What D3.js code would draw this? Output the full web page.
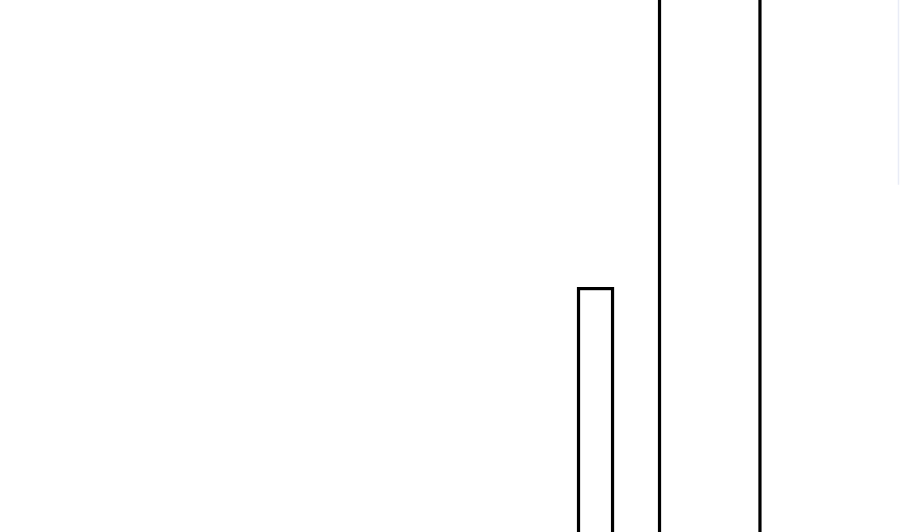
<!DOCTYPE html>
<html>
<head>
<meta charset="utf-8">
<script src="https://cdn.jsdelivr.net/npm/d3@7"></script>
<style>
  html, body { margin: 0; padding: 0; background: #fff; overflow: hidden; }
  svg { display: block; }
</style>
</head>
<body>
<svg width="900" height="532"></svg>
<script>
  // Chart data: bin edges (x units) and bar heights (y units).
  const binStart = [64.28, 73.28];
  const binEnd = [68.06, 84.44];
  const barValues = [51.9, 110];

  // Faint guide at the right edge (x units / y units).
  const guideX = [99.83];
  const guideTop = [100];
  const guideBottom = [69.2];

  const bars = binStart.map((x0, i) => ({ x0: x0, x1: binEnd[i], v: barValues[i] }));

  let svg = d3.select("svg");
  const width = 900;
  const height = 532;

  // Scales: plot extends beyond the visible frame, so bars run off the bottom.
  const x = d3.scaleLinear().domain([0, 100]).range([0, width]);
  const y = d3.scaleLinear().domain([0, 100]).range([600, 0]);

  svg.append("g")
    .selectAll("rect")
    .data(bars)
    .enter()
    .append("rect")
    .attr("x", d => x(d.x0))
    .attr("width", d => x(d.x1) - x(d.x0))
    .attr("y", d => y(d.v))
    .attr("height", d => y(0) - y(d.v))
    .attr("fill", "#fff")
    .attr("stroke", "#000")
    .attr("stroke-width", 3.2);

  svg.append("g")
    .selectAll("line")
    .data(guideX)
    .enter()
    .append("line")
    .attr("x1", d => x(d))
    .attr("x2", d => x(d))
    .attr("y1", (d, i) => y(guideTop[i]) - 600)
    .attr("y2", (d, i) => y(guideBottom[i]))
    .attr("stroke", "#e9ecf6")
    .attr("stroke-width", 1.5);
</script>
</body>
</html>
